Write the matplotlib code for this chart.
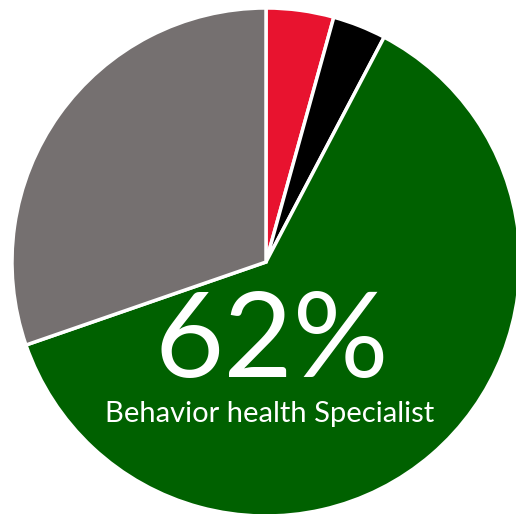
import matplotlib
matplotlib.use("Agg")
import matplotlib.pyplot as plt

# slice shares, clockwise from 12 o'clock
labels = ["Red", "Black", "Behavior health Specialist", "Other"]
values = [4.3, 3.4, 62, 30.3]
colors = ["#E8132F", "#000000", "#006100", "#757070"]

big_label = "62%"
sub_label = "Behavior health Specialist"

fig = plt.figure(figsize=(5.16, 5.14), dpi=100)
ax = fig.add_axes([0, 0, 1, 1])

ax.pie(values, colors=colors, startangle=90, counterclock=False,
       center=(266, 252), radius=254, frame=True,
       wedgeprops=dict(edgecolor="white", linewidth=2.5))
ax.set_xlim(0, 516)
ax.set_ylim(0, 514)
ax.axis("off")

ax.text(272, 137, big_label, color="white", fontsize=86, family="Lato",
        ha="center", va="baseline")
ax.text(270, 92, sub_label, color="white", fontsize=21, family="Lato",
        ha="center", va="baseline")

fig.savefig("out.png", dpi=100)
